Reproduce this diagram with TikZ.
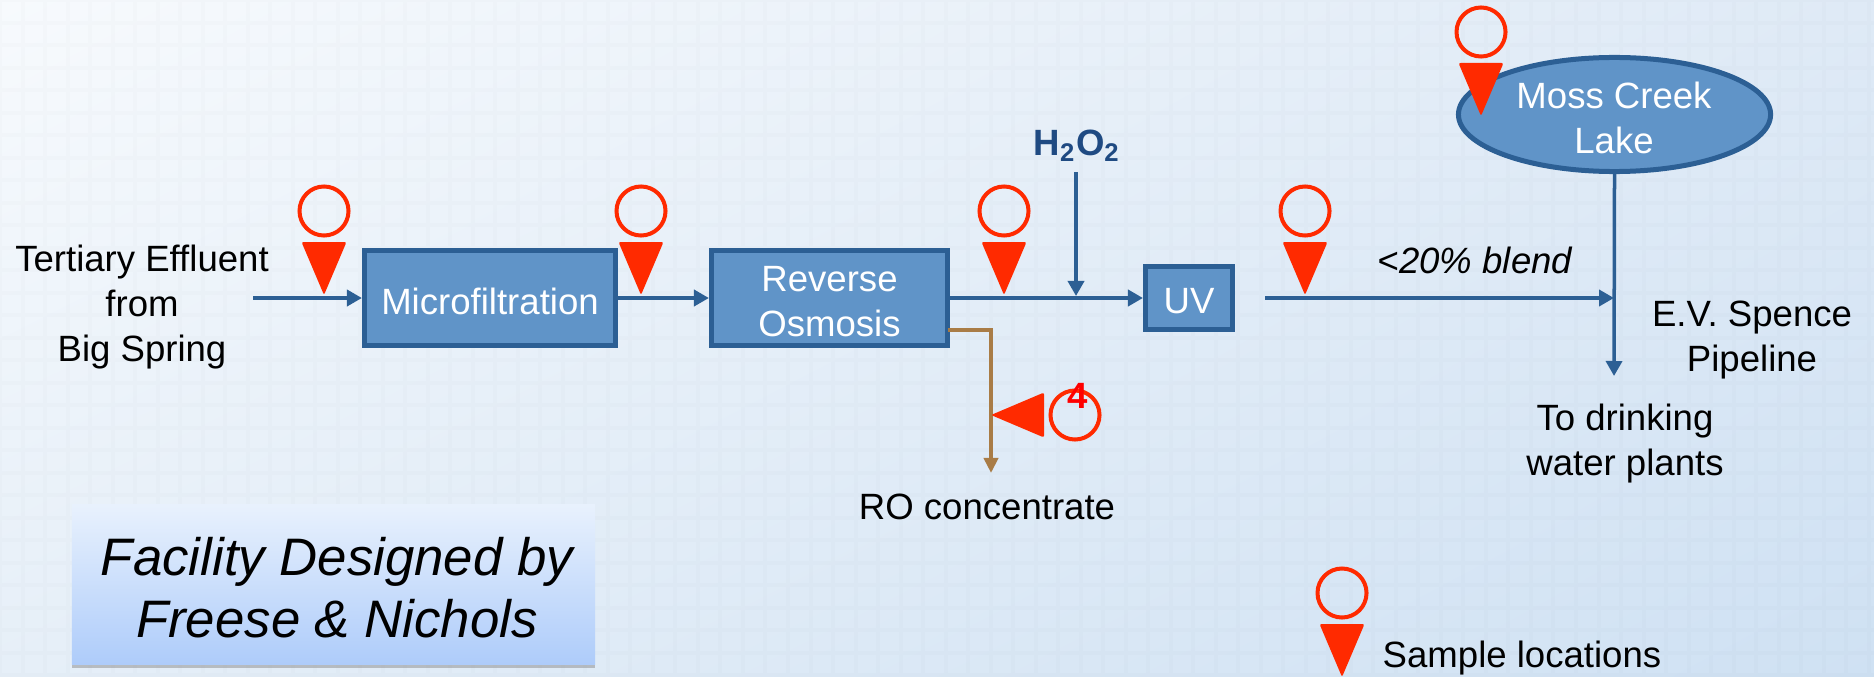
\documentclass[tikz,border=0pt]{standalone}
\usepackage{fontspec}
\setmainfont{Liberation Sans}
\usetikzlibrary{arrows.meta,shadows,shadings,shapes.geometric}
\definecolor{pipeblue}{HTML}{2C5F94}
\definecolor{unitblue}{HTML}{6094C8}
\definecolor{pinred}{HTML}{FF2A00}
\definecolor{rejectbrown}{HTML}{A97C46}
\definecolor{peroxideblue}{HTML}{1F4A82}
\definecolor{backnw}{HTML}{F7FAFD}
\definecolor{backne}{HTML}{DFEAF6}
\definecolor{backsw}{HTML}{E6EFF8}
\definecolor{backse}{HTML}{CFE1F3}
\definecolor{creditfrom}{HTML}{E8F1FD}
\definecolor{creditto}{HTML}{AECCFA}
\tikzset{
    bodytext/.style={font=\fontsize{10.4}{12.8}\selectfont, align=center, inner sep=0pt},
    unitlabel/.style={bodytext, text=white},
    unit/.style={draw=pipeblue, fill=unitblue, line width=0.05cm, inner sep=0pt},
    flow/.style={draw=pipeblue, line width=0.045cm, -{Triangle[length=0.15cm,width=0.16cm]}},
    thinflow/.style={flow, line width=0.035cm},
    reject/.style={draw=rejectbrown, line width=0.04cm, -{Triangle[length=0.15cm,width=0.14cm]}},
    samplepin/.pic={
        \node[draw=pinred, line width=0.04cm, circle, minimum size=0.49cm, inner sep=0pt] (-ring) at (0,0) {};
        \fill[pinred, rounded corners=0.02cm] (-22.5,31)--(22.5,31)--(0,84)--cycle;
    }
}
\begin{document}
\begin{tikzpicture}[x=0.01cm, y=-0.01cm]
    \useasboundingbox (0,0) rectangle (1874,676);
    \shade[upper left=backnw, upper right=backne, lower left=backsw, lower right=backse]
        (0,0) rectangle (1874,676);
    \draw[black, opacity=0.01, line width=0.04cm, step=0.225cm] (0,0) grid (1874,676);

    % process units
    \node[unit, minimum width=2.51cm, minimum height=0.95cm] (mf) at (490,298) {};
    \node[unit, minimum width=2.36cm, minimum height=0.95cm] (ro) at (829.5,298) {};
    \node[unit, minimum width=0.87cm, minimum height=0.63cm] (uv) at (1189,298) {};
    \node[unit, ellipse, minimum width=3.12cm, minimum height=1.14cm] (lake) at (1614.5,114.5) {};
    \node[unitlabel] (mfname) at (490,301) {Microfiltration};
    \node[unitlabel] (roname) at (829.5,302) {Reverse\\Osmosis};
    \node[unitlabel] (uvname) at (1189,301) {UV};
    \node[unitlabel] (lakename) at (1614,118) {Moss Creek\\Lake};

    % labels
    \node[bodytext] (source) at (142,307) {Tertiary Effluent\\from\\Big Spring};
    \node[bodytext, font=\fontsize{10.4}{12.8}\bfseries\selectfont, text=peroxideblue] (peroxide) at (1077,146) {H\textsubscript{2}O\textsubscript{2}};
    \node[bodytext, font=\fontsize{10.4}{12.8}\itshape\selectfont] (blend) at (1475,260) {<20\% blend};
    \node[bodytext] (pipeline) at (1752,340) {E.V. Spence\\Pipeline};
    \node[bodytext] (plants) at (1625,444) {To drinking\\water plants};
    \node[bodytext] (concentrate) at (987,507) {RO concentrate};
    \node[bodytext, anchor=west] (legend) at (1382,658) {Sample locations};
    \node[top color=creditfrom, bottom color=creditto, drop shadow={shadow xshift=0cm, shadow yshift=-0.04cm, opacity=0.45},
        minimum width=5.23cm, minimum height=1.59cm, inner sep=0pt] (designer) at (333.5,584.5) {};
    \node[bodytext, font=\fontsize{15}{17.6}\itshape\selectfont] (designername) at (337,588) {Facility Designed by\\Freese \& Nichols};

    % free ends of the lines
    \coordinate (feed) at (253,298);
    \coordinate (dose) at (1076,172);
    \coordinate (mix) at (1076,296);
    \coordinate (uvout) at (1265,298);
    \coordinate (join) at (1614,298);
    \coordinate (tap) at (1614,376);
    \coordinate (rostart) at (948,330);
    \coordinate (rocorner) at (991,330);
    \coordinate (roend) at (991,473);

    \draw[flow] (feed)--(mf);
    \draw[flow] (mf)--(ro);
    \draw[flow] (ro)--(uv);
    \draw[thinflow] (dose)--(mix);
    \draw[flow] (uvout)--(join);
    \draw[thinflow] (lake.south)--(tap);
    \draw[reject] (rostart)--(rocorner)--(roend);

    % sample points
    \pic (pinA) at (324,211) {samplepin};
    \pic (pinB) at (641,211) {samplepin};
    \pic (pinC) at (1004,211) {samplepin};
    \pic (pinD) at (1305,211) {samplepin};
    \pic (pinE) at (1481,32) {samplepin};
    \pic (pinF) at (1342,593) {samplepin};
    \pic[rotate=-90] (pinG) at (1075,415) {samplepin};
    \node[inner sep=0pt, text=red, font=\fontsize{10.4}{12}\bfseries\selectfont] (pinGnum) at (1078,396) {4};
\end{tikzpicture}
\end{document}
